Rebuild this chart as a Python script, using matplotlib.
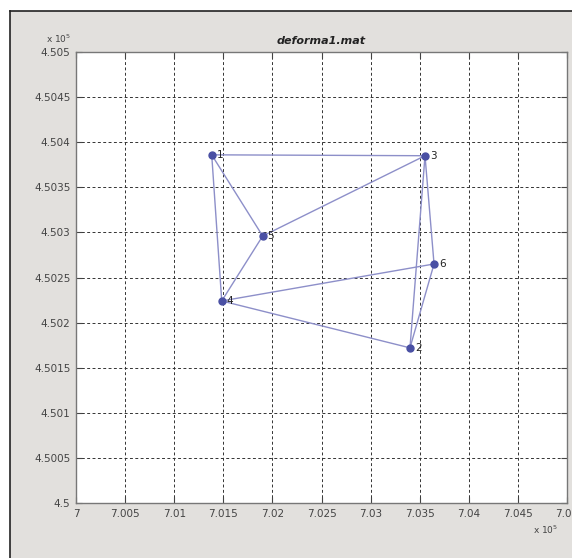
import matplotlib
matplotlib.use("Agg")
import matplotlib.pyplot as plt
from matplotlib.patches import Rectangle
from matplotlib.ticker import FuncFormatter

# point coordinates (metres)
labels = ["1", "2", "3", "4", "5", "6"]
xs = [701382, 703401, 703554, 701484, 701901, 703646]
ys = [450386, 450172, 450385, 450224, 450296, 450265]

# network edges (point numbers)
edges = [(1, 3), (1, 5), (1, 4), (3, 5), (3, 2), (3, 6),
         (5, 4), (4, 6), (4, 2), (6, 2)]

xticks = [700000 + 500 * i for i in range(11)]
yticks = [450000 + 50 * i for i in range(11)]

fig = plt.figure(figsize=(5.72, 5.58), dpi=100)
fig.patch.set_facecolor("white")

# grey window background with dark left/top border
bg = Rectangle((10 / 572, 0), 1, 1 - 11 / 558, transform=fig.transFigure,
               facecolor="#e2e0dd", edgecolor="none", zorder=-10)
fig.patches.append(bg)
fig.add_artist(plt.Line2D([10 / 572, 10 / 572], [0, 1 - 11 / 558],
                          transform=fig.transFigure, color="#222222", lw=1.2))
fig.add_artist(plt.Line2D([10 / 572, 1], [1 - 11 / 558, 1 - 11 / 558],
                          transform=fig.transFigure, color="#222222", lw=1.2))

ax = fig.add_axes([76 / 572, 1 - 503 / 558, 491 / 572, 451 / 558])
ax.set_facecolor("white")

for a, b in edges:
    ax.plot([xs[a - 1], xs[b - 1]], [ys[a - 1], ys[b - 1]],
            color="#8d8fc9", lw=1.0, zorder=2)
ax.plot(xs, ys, "o", color="#4a50a4", ms=5, zorder=3)
for lab, x, y in zip(labels, xs, ys):
    ax.text(x + 50, y, lab, fontsize=7.5, va="center",
            ha="left", color="#222222", zorder=4)

ax.set_xlim(700000, 705000)
ax.set_ylim(450000, 450500)
ax.set_xticks(xticks)
ax.set_yticks(yticks)
fmt = FuncFormatter(lambda v, pos: "%g" % round(v / 1e5, 4))
ax.xaxis.set_major_formatter(fmt)
ax.yaxis.set_major_formatter(fmt)
ax.tick_params(direction="in", length=4, labelsize=7.5, colors="#444444",
               top=True, right=True, pad=4)
ax.grid(True, color="#333333", linestyle=(0, (3, 2.5)), lw=0.7)
for s in ax.spines.values():
    s.set_color("#777777")
    s.set_linewidth(1.0)

ax.set_title("deforma1.mat", fontsize=8, fontweight="bold", style="italic",
             color="#222222", pad=6)

fig.text(46 / 572, 1 - 45 / 558, r"x 10$^5$", fontsize=6.5, color="#444444",
         ha="left", va="bottom")
fig.text(533 / 572, 1 - 536 / 558, r"x 10$^5$", fontsize=6.5, color="#444444",
         ha="left", va="bottom")

fig.savefig("out.png", dpi=100)
